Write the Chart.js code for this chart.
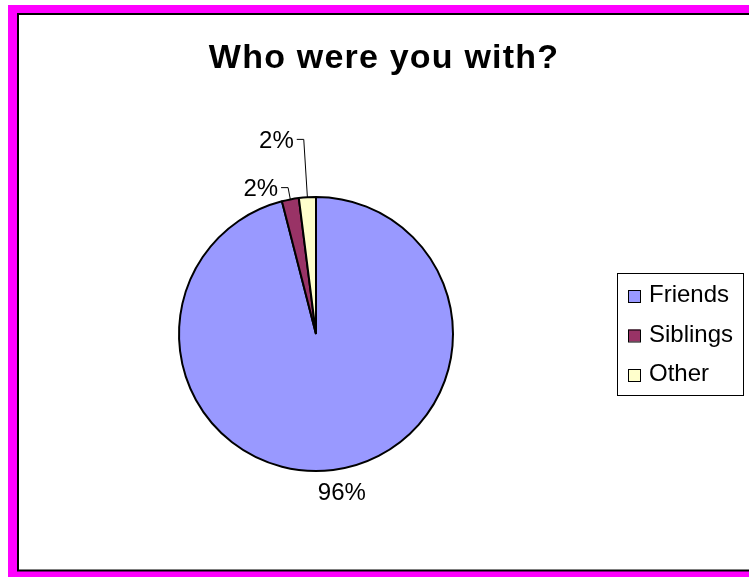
<!DOCTYPE html>
<html>
<head>
<meta charset="utf-8">
<title>Who were you with?</title>
<script src="https://cdn.jsdelivr.net/npm/chart.js@4/dist/chart.umd.min.js"></script>
<style>
  html, body { margin: 0; padding: 0; background: #ffffff; }
  #wrap { position: relative; width: 749px; height: 577px; }
  canvas { display: block; }
</style>
</head>
<body>
<div id="wrap"><canvas id="chart" width="749" height="577"></canvas></div>
<script>
// Survey answers, shares in percent
const categories = ['Friends', 'Siblings', 'Other'];
const shares = [96, 2, 2];
const sliceColors = ['#9999FF', '#993366', '#FFFFCC'];
const titleText = 'Who were you with?';

const FONT = '"Liberation Sans", Arial, Helvetica, sans-serif';

// Outer frame: magenta mat with a black-edged white panel
const framePlugin = {
  id: 'frame',
  beforeDraw(chart) {
    const ctx = chart.ctx;
    ctx.save();
    ctx.fillStyle = '#FF00FF';
    ctx.fillRect(8, 5, chart.width - 8, chart.height - 5);
    ctx.fillStyle = '#000000';
    ctx.fillRect(17, 13, chart.width - 17, 558.5);
    ctx.fillStyle = '#FFFFFF';
    ctx.fillRect(19, 15, chart.width - 19, 554.5);
    ctx.restore();
  }
};

// Title, percentage labels with leader lines, and the boxed legend
const decorPlugin = {
  id: 'decor',
  afterDatasetsDraw(chart, args, opts) {
    const ctx = chart.ctx;
    const meta = chart.getDatasetMeta(0);
    const total = shares.reduce((a, b) => a + b, 0);
    ctx.save();

    // title
    ctx.fillStyle = '#000';
    ctx.font = 'bold 34px ' + FONT;
    ctx.letterSpacing = '1.2px';
    ctx.textAlign = 'center';
    ctx.textBaseline = 'alphabetic';
    ctx.fillText(titleText, 384, 68);
    ctx.letterSpacing = '0px';

    // slice labels
    ctx.font = '24px ' + FONT;
    ctx.strokeStyle = '#000';
    ctx.lineWidth = 1;
    meta.data.forEach((arc, i) => {
      const p = arc.getProps(['x', 'y', 'startAngle', 'endAngle', 'outerRadius'], true);
      const mid = (p.startAngle + p.endAngle) / 2;
      const c = Math.cos(mid), s = Math.sin(mid);
      const text = Math.round(shares[i] / total * 100) + '%';
      const place = opts.placement[i];
      if (place.leader) {
        const x0 = p.x + c * p.outerRadius, y0 = p.y + s * p.outerRadius;
        const x1 = p.x + c * place.dist, y1 = p.y + s * place.dist;
        const x2 = x1 - place.arm;
        ctx.beginPath();
        ctx.moveTo(x0, y0);
        ctx.lineTo(x1, y1);
        ctx.lineTo(x2, y1);
        ctx.stroke();
        ctx.textAlign = 'right';
        ctx.fillText(text, x2 - 3, y1 + 8.6);
      } else {
        const x = p.x + c * place.dist + place.dx;
        const y = p.y + s * place.dist;
        ctx.textAlign = 'center';
        ctx.fillText(text, x, y + 8.6);
      }
    });

    // legend
    const L = opts.legend;
    ctx.lineWidth = 1;
    ctx.strokeStyle = '#000';
    ctx.strokeRect(L.x + 0.5, L.y + 0.5, L.w, L.h);
    ctx.textAlign = 'left';
    categories.forEach((name, i) => {
      const base = L.firstBaseline + i * L.step;
      ctx.fillStyle = sliceColors[i];
      ctx.fillRect(L.x + 11, base - 12, 12, 12);
      ctx.strokeRect(L.x + 11.5, base - 11.5, 12, 12);
      ctx.fillStyle = '#000';
      ctx.fillText(name, L.x + 32, base);
    });
    ctx.restore();
  }
};

new Chart(document.getElementById('chart'), {
  type: 'pie',
  data: {
    labels: categories,
    datasets: [{
      data: shares,
      backgroundColor: sliceColors,
      borderColor: '#000000',
      borderWidth: 2,
      hoverOffset: 0
    }]
  },
  options: {
    responsive: false,
    animation: false,
    radius: 137,
    layout: { padding: { left: 20, right: 137, top: 100, bottom: 9 } },
    plugins: {
      legend: { display: false },
      title: { display: false },
      tooltip: { enabled: false },
      decor: {
        placement: [
          { leader: false, dist: 158.7, dx: 6 },
          { leader: true, dist: 149, arm: 7 },
          { leader: true, dist: 195, arm: 7 }
        ],
        legend: { x: 617, y: 273, w: 126, h: 122, firstBaseline: 302, step: 39.5 }
      }
    }
  },
  plugins: [framePlugin, decorPlugin]
});
</script>
</body>
</html>
